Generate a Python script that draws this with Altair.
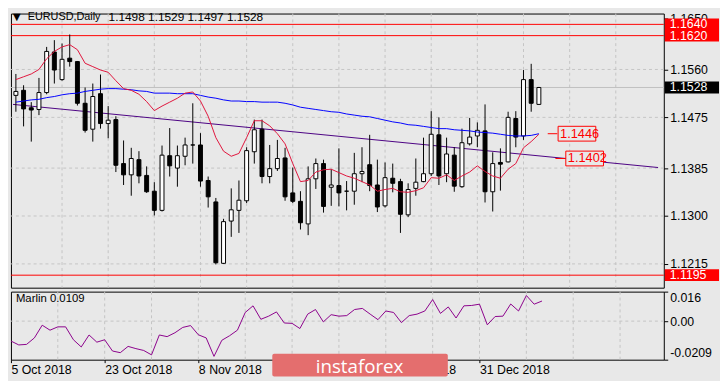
import altair as alt
import pandas as pd

# ---------------- data ----------------
opens = [1.1514, 1.1523, 1.1492, 1.1489, 1.1519, 1.1591, 1.1542, 1.1580, 1.1574, 1.1500,
         1.1454, 1.1517, 1.1464, 1.1471, 1.1393, 1.1373, 1.1400, 1.1372, 1.1344, 1.1310,
         1.1407, 1.1385, 1.1406, 1.1426, 1.1426, 1.1363, 1.1325, 1.1216, 1.1291, 1.1310,
         1.1327, 1.1414, 1.1454, 1.1370, 1.1384, 1.1403, 1.1341, 1.1326, 1.1286, 1.1366,
         1.1393, 1.1351, 1.1354, 1.1344, 1.1344, 1.1375, 1.1391, 1.1355, 1.1318, 1.1367,
         1.1361, 1.1302, 1.1349, 1.1361, 1.1375, 1.1444, 1.1375, 1.1408, 1.1352, 1.1428,
         1.1442, 1.1451, 1.1343, 1.1395, 1.1396, 1.1473, 1.1442, 1.1542, 1.1498]
highs = [1.1552, 1.1532, 1.1502, 1.1545, 1.1600, 1.1612, 1.1606, 1.1622, 1.1575, 1.1528,
         1.1535, 1.1551, 1.1495, 1.1477, 1.1434, 1.1421, 1.1415, 1.1388, 1.1360, 1.1425,
         1.1456, 1.1425, 1.1439, 1.1500, 1.1447, 1.1370, 1.1332, 1.1295, 1.1349, 1.1363,
         1.1422, 1.1471, 1.1471, 1.1426, 1.1435, 1.1421, 1.1386, 1.1344, 1.1388, 1.1402,
         1.1400, 1.1383, 1.1420, 1.1362, 1.1412, 1.1422, 1.1444, 1.1400, 1.1395, 1.1393,
         1.1366, 1.1358, 1.1402, 1.1439, 1.1486, 1.1475, 1.1439, 1.1422, 1.1455, 1.1474,
         1.1466, 1.1498, 1.1413, 1.1420, 1.1485, 1.1486, 1.1559, 1.1570, 1.1529]
lows = [1.1485, 1.1459, 1.1432, 1.1479, 1.1516, 1.1535, 1.1540, 1.1565, 1.1496, 1.1448,
        1.1432, 1.1455, 1.1438, 1.1378, 1.1355, 1.1336, 1.1358, 1.1341, 1.1301, 1.1308,
        1.1370, 1.1352, 1.1390, 1.1393, 1.1352, 1.1315, 1.1214, 1.1215, 1.1263, 1.1270,
        1.1323, 1.1393, 1.1358, 1.1358, 1.1380, 1.1327, 1.1323, 1.1276, 1.1266, 1.1348,
        1.1306, 1.1318, 1.1317, 1.1310, 1.1320, 1.1360, 1.1344, 1.1307, 1.1315, 1.1342,
        1.1270, 1.1298, 1.1336, 1.1360, 1.1371, 1.1355, 1.1360, 1.1343, 1.1350, 1.1425,
        1.1422, 1.1324, 1.1308, 1.1345, 1.1395, 1.1422, 1.1435, 1.1485, 1.1497]
closes = [1.1521, 1.1490, 1.1488, 1.1519, 1.1592, 1.1559, 1.1578, 1.1574, 1.1500, 1.1452,
          1.1512, 1.1464, 1.1470, 1.1390, 1.1373, 1.1402, 1.1371, 1.1343, 1.1310, 1.1408,
          1.1389, 1.1407, 1.1426, 1.1426, 1.1362, 1.1334, 1.1217, 1.1290, 1.1311, 1.1328,
          1.1416, 1.1453, 1.1370, 1.1384, 1.1402, 1.1334, 1.1326, 1.1288, 1.1366, 1.1393,
          1.1317, 1.1355, 1.1341, 1.1344, 1.1375, 1.1379, 1.1354, 1.1316, 1.1368, 1.1358,
          1.1303, 1.1347, 1.1360, 1.1375, 1.1445, 1.1371, 1.1410, 1.1353, 1.1430, 1.1440,
          1.1452, 1.1343, 1.1393, 1.1392, 1.1475, 1.1440, 1.1542, 1.1500, 1.1528]
red_ma = [1.1542, 1.1547, 1.1552, 1.1560, 1.1579, 1.1592, 1.1600, 1.1604, 1.1595, 1.1571,
          1.1565, 1.1559, 1.1555, 1.1540, 1.1526, 1.1523, 1.1516, 1.1503, 1.1487, 1.1495,
          1.1502, 1.1509, 1.1518, 1.1520, 1.1504, 1.1477, 1.1439, 1.1415, 1.1406, 1.1411,
          1.1439, 1.1469, 1.1469, 1.1460, 1.1446, 1.1428, 1.1393, 1.1361, 1.1363, 1.1378,
          1.1382, 1.1383, 1.1377, 1.1371, 1.1367, 1.1361, 1.1355, 1.1344, 1.1347, 1.1349,
          1.1343, 1.1342, 1.1345, 1.1350, 1.1368, 1.1367, 1.1373, 1.1363, 1.1371, 1.1378,
          1.1389, 1.1379, 1.1371, 1.1367, 1.1383, 1.1393, 1.1421, 1.1432, 1.1445]
blue_ma = [1.1502, 1.1504, 1.1506, 1.1507, 1.1510, 1.1512, 1.1515, 1.1517, 1.1518, 1.1521,
           1.1523, 1.1525, 1.1526, 1.1526, 1.1525, 1.1524, 1.1522, 1.1521, 1.1518, 1.1518,
           1.1518, 1.1517, 1.1517, 1.1517, 1.1514, 1.1511, 1.1509, 1.1506, 1.1504, 1.1504,
           1.1503, 1.1503, 1.1502, 1.1502, 1.1502, 1.1500, 1.1497, 1.1493, 1.1491, 1.1489,
           1.1487, 1.1485, 1.1484, 1.1481, 1.1479, 1.1477, 1.1476, 1.1473, 1.1470, 1.1467,
           1.1465, 1.1462, 1.1461, 1.1459, 1.1457, 1.1455, 1.1455, 1.1453, 1.1452, 1.1451,
           1.1449, 1.1448, 1.1447, 1.1445, 1.1443, 1.1442, 1.1442, 1.1443, 1.1446]
marlin = [-0.0108, -0.0129, -0.0126, -0.0091, -0.0022, -0.0049, -0.0031, -0.0031, -0.0101, -0.0140,
          -0.0075, -0.0114, -0.0101, -0.0162, -0.0171, -0.0137, -0.0149, -0.0159, -0.0183, -0.0075,
          -0.0084, -0.0063, -0.0034, -0.0024, -0.0074, -0.0091, -0.0191, -0.0104, -0.0079, -0.0049,
          0.0047, 0.0083, 0.0010, 0.0027, 0.0050, -0.0010, -0.0012, -0.0040, 0.0038, 0.0063,
          -0.0004, 0.0035, 0.0027, 0.0030, 0.0063, 0.0069, 0.0038, 0.0008, 0.0055, 0.0047,
          -0.0008, 0.0030, 0.0038, 0.0055, 0.0117, 0.0042, 0.0077, 0.0017, 0.0083, 0.0085,
          0.0092, -0.0020, 0.0025, 0.0027, 0.0093, 0.0055, 0.0139, 0.0092, 0.0109]

trend_bars = [-0.375, 83.5]
trend_prices = [1.1498, 1.1386]
level_prices = [1.1640, 1.1620, 1.1195]
bid_price = 1.1528
price_ticks = [1.1650, 1.1560, 1.1475, 1.1385, 1.1300, 1.1215]
grid_prices = [1.1560, 1.1475, 1.1385, 1.1300, 1.1215]
vgrid_bars = [6, 12, 18, 24, 30, 36, 42, 48, 54, 60, 66, 72, 78]
date_tick_bars = [0, 12, 24, 48, 60]
date_labels = ["5 Oct 2018", "23 Oct 2018", "8 Nov 2018", "12 Dec 2018", "31 Dec 2018"]
marlin_ticks = [0.016, 0.0, -0.0209]
marlin_tick_labels = ["0.016", "0.00", "-0.0209"]
axis_box_prices = [1.1640, 1.1620, 1.1528, 1.1195]
axis_box_texts = ["1.1640", "1.1620", "1.1528", "1.1195"]
axis_box_colors = ["#ff0000", "#ff0000", "#000000", "#ff0000"]
plabel_prices = [1.1446, 1.1402]
plabel_texts = ["1.1446", "1.1402"]
plabel_bars = [70.5, 71.5]

BG = "#e8e8e8"
FONT = "Liberation Sans"
W, H_MAIN, H_SUB = 662, 278, 69

df = pd.DataFrame({"bar": list(range(len(opens))), "open": opens, "high": highs,
                   "low": lows, "close": closes, "red": red_ma, "blue": blue_ma,
                   "marlin": marlin})

xs = alt.Scale(domain=[0, 83.6], nice=False, zero=False)
ys = alt.Scale(domain=[1.11728, 1.16592], nice=False, zero=False)
ms = alt.Scale(domain=[-0.0209, 0.016], nice=False, zero=False)

yax = alt.Axis(orient="right", values=price_ticks, format=".4f", title=None, grid=False,
               domain=False, tickColor="black", tickSize=4, labelPadding=2,
               labelFont=FONT, labelFontSize=12.5, labelColor="black", labelOverlap=False)

X = lambda f: alt.X(f, type="quantitative", scale=xs, axis=None)
Y = lambda f: alt.Y(f, type="quantitative", scale=ys, axis=yax)

vgrid_df = pd.DataFrame({"bar": vgrid_bars})
hgrid_df = pd.DataFrame({"p": grid_prices})
levels_df = pd.DataFrame({"p": level_prices})
bid_df = pd.DataFrame({"p": [bid_price]})
trend_df = pd.DataFrame({"bar": trend_bars, "p": trend_prices})
box_df = pd.DataFrame({"p": axis_box_prices, "t": axis_box_texts, "c": axis_box_colors})
pl_df = pd.DataFrame({"p": plabel_prices, "t": plabel_texts, "b": plabel_bars})
pl_df["b2"] = pl_df["b"] + 4.9
pl_df["l1"] = pl_df["b"] - 1.35
pl_df["l2"] = pl_df["b"] - 0.1

dash = dict(strokeDash=[3, 3], color="#c4c4c4", strokeWidth=1)

vgrid = alt.Chart(vgrid_df).mark_rule(**dash).encode(x=X("bar"))
hgrid = alt.Chart(hgrid_df).mark_rule(**dash).encode(y=Y("p"))
levels = alt.Chart(levels_df).mark_rule(color="#ff0000", strokeWidth=1).encode(y=Y("p"))
bid = alt.Chart(bid_df).mark_rule(color="#c0c0c0", strokeWidth=1).encode(y=Y("p"))
trend = alt.Chart(trend_df).mark_line(color="#4b0082", strokeWidth=1, clip=True).encode(
    x=X("bar"), y=Y("p"))
wicks = alt.Chart(df).mark_rule(color="black", strokeWidth=1, clip=True).encode(
    x=X("bar"), y=Y("low"), y2="high")
bodies = alt.Chart(df).mark_bar(size=4, stroke="black", strokeWidth=1, clip=True).encode(
    x=X("bar"), y=Y("open"), y2="close",
    fill=alt.condition("datum.close >= datum.open", alt.value("white"), alt.value("black")))
blue = alt.Chart(df).mark_line(color="#0000ff", strokeWidth=1, clip=True).encode(
    x=X("bar"), y=Y("blue"))
red = alt.Chart(df).mark_line(color="#e0143c", strokeWidth=1, clip=True).encode(
    x=X("bar"), y=Y("red"))

pl_line = alt.Chart(pl_df).mark_rule(color="#ff0000").encode(x=X("l1"), x2="l2", y=Y("p"))
pl_box = alt.Chart(pl_df).mark_rect(fill=BG, stroke="#ff0000", strokeWidth=1,
                                    yOffset=-7.5, y2Offset=7.5).encode(
    x=X("b"), x2="b2", y=Y("p"), y2="p")
pl_text = alt.Chart(pl_df).mark_text(color="#ff0000", align="left", baseline="middle",
                                     dx=2, font=FONT, fontSize=13).encode(
    x=X("b"), y=Y("p"), text="t:N")

ax_box = alt.Chart(box_df).mark_rect(yOffset=-6, y2Offset=6).encode(
    x=alt.value(663), x2=alt.value(718), y=Y("p"), y2="p",
    fill=alt.Fill("c:N", scale=None))
ax_text = alt.Chart(box_df).mark_text(color="white", align="left", baseline="middle",
                                      font=FONT, fontSize=12.5).encode(
    x=alt.value(668), y=Y("p"), text="t:N")

title_tri = alt.Chart(pd.DataFrame({"t": ["\u25bc"]})).mark_text(
    align="left", baseline="middle", font="DejaVu Sans", fontSize=10, color="black").encode(
    x=alt.value(2), y=alt.value(4), text="t:N")
title_sym = alt.Chart(pd.DataFrame({"t": ["EURUSD,Daily"]})).mark_text(
    align="left", baseline="middle", font=FONT, fontSize=11, color="black").encode(
    x=alt.value(17), y=alt.value(4), text="t:N")
title_ohlc = alt.Chart(pd.DataFrame({"t": ["1.1498 1.1529 1.1497 1.1528"]})).mark_text(
    align="left", baseline="middle", font=FONT, fontSize=12, color="black").encode(
    x=alt.value(99), y=alt.value(4), text="t:N")

main = alt.layer(vgrid, hgrid, levels, bid, trend, wicks, bodies, blue, red,
                 pl_line, pl_box, pl_text, ax_box, ax_text,
                 title_tri, title_sym, title_ohlc).properties(width=W, height=H_MAIN)

# ---------------- Marlin sub-window ----------------
def chain(values, labels):
    expr = "''"
    for v, l in reversed(list(zip(values, labels))):
        expr = f"abs(datum.value - ({v})) < 1e-6 ? '{l}' : {expr}"
    return expr

xax = alt.Axis(values=date_tick_bars, labelExpr=chain(date_tick_bars, date_labels),
               labelAlign="left", title=None, grid=False, domain=False, tickColor="black",
               tickSize=3, labelPadding=1, labelFont=FONT, labelFontSize=12.5,
               labelColor="black", labelOverlap=False, labelFlush=False, labelBound=False)
max_ = alt.Axis(orient="right", values=marlin_ticks,
                labelExpr=chain(marlin_ticks, marlin_tick_labels), title=None, grid=False,
                domain=False, tickColor="black", tickSize=4, labelPadding=2, labelFlush=True,
                labelFont=FONT, labelFontSize=12.5, labelColor="black", labelOverlap=False)

svgrid = alt.Chart(vgrid_df).mark_rule(**dash).encode(
    x=alt.X("bar:Q", scale=xs, axis=xax))
szero = alt.Chart(pd.DataFrame({"v": [0.0]})).mark_rule(**dash).encode(
    y=alt.Y("v:Q", scale=ms, axis=max_))
mline = alt.Chart(df).mark_line(color="#8b008b", strokeWidth=1, clip=True).encode(
    x=alt.X("bar:Q", scale=xs, axis=xax), y=alt.Y("marlin:Q", scale=ms, axis=max_))
mtext = alt.Chart(pd.DataFrame({"t": ["Marlin 0.0109"]})).mark_text(
    align="left", baseline="middle", font=FONT, fontSize=11.5, color="black").encode(
    x=alt.value(5), y=alt.value(8), text="t:N")
wm_rect = alt.Chart(pd.DataFrame({"t": ["wm"]})).mark_rect(
    fill="#e46e6e", cornerRadius=2).encode(
    x=alt.value(265), x2=alt.value(443), y=alt.value(63), y2=alt.value(86))
wm_text = alt.Chart(pd.DataFrame({"t": ["instaforex"]})).mark_text(
    align="left", baseline="middle", font="Open Sans", fontSize=19, color="white").encode(
    x=alt.value(309), y=alt.value(77), text="t:N")

sub = alt.layer(svgrid, szero, mline, mtext, wm_rect, wm_text).properties(
    width=W, height=H_SUB)

chart = alt.vconcat(main, sub, spacing=2).properties(
    padding={"left": 2, "top": 0, "right": 0, "bottom": 0}, background=BG
).configure_view(stroke="black", strokeWidth=1, fill=BG)

chart.save("out.html", embed_options={"renderer": "svg", "actions": False})
